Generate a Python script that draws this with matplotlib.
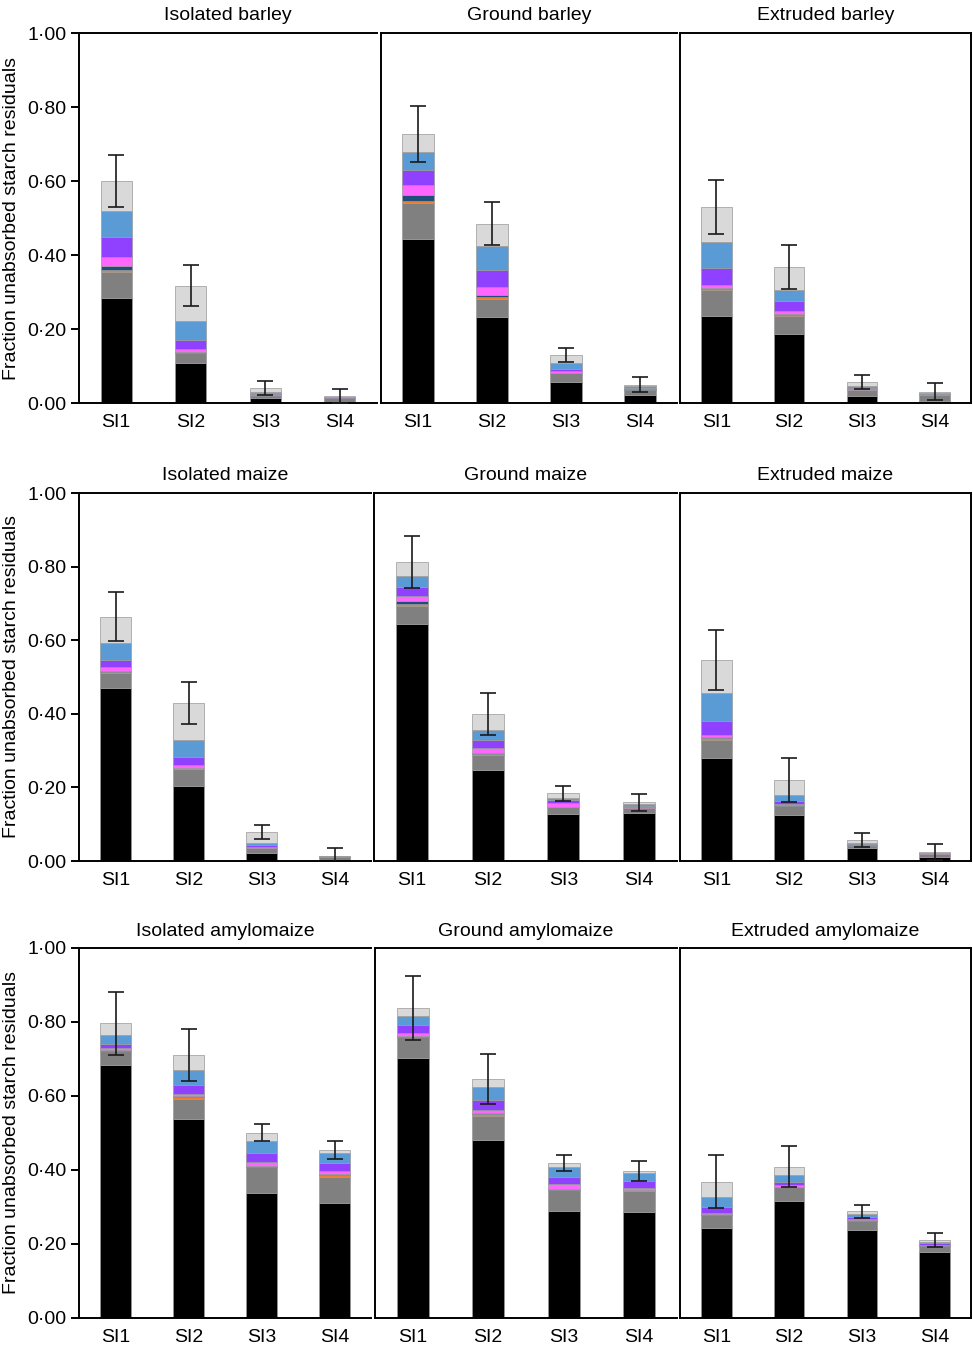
import matplotlib
matplotlib.use("Agg")
from matplotlib import pyplot as plt
import numpy as np

plt.rcParams['font.family'] = ['Liberation Sans', 'DejaVu Sans']

groups = ["SI1", "SI2", "SI3", "SI4"]
layer_colors = ["#000000", "#808080", "#ed7d31", "#1f4e79",
                "#ff66ff", "#9040ff", "#5b9bd5", "#d9d9d9"]

# cumulative top of each layer (black, gray, orange, navy, pink, purple, blue, light gray), per SI
iso_barley = [[0.284, 0.353, 0.359, 0.371, 0.394, 0.448, 0.519, 0.600],
              [0.107, 0.134, 0.135, 0.137, 0.145, 0.170, 0.222, 0.317],
              [0.013, 0.020, 0.020, 0.021, 0.023, 0.026, 0.030, 0.040],
              [0.003, 0.013, 0.013, 0.013, 0.014, 0.015, 0.017, 0.019]]
iso_barley_err = [0.069, 0.056, 0.019, 0.018]

ground_barley = [[0.442, 0.540, 0.546, 0.561, 0.588, 0.630, 0.679, 0.728],
                 [0.232, 0.282, 0.286, 0.291, 0.314, 0.359, 0.425, 0.485],
                 [0.058, 0.080, 0.081, 0.082, 0.086, 0.091, 0.107, 0.130],
                 [0.022, 0.036, 0.036, 0.037, 0.038, 0.041, 0.045, 0.050]]
ground_barley_err = [0.076, 0.057, 0.019, 0.021]

ext_barley = [[0.235, 0.305, 0.307, 0.310, 0.320, 0.365, 0.435, 0.530],
              [0.186, 0.235, 0.237, 0.240, 0.250, 0.275, 0.305, 0.368],
              [0.019, 0.035, 0.035, 0.036, 0.038, 0.041, 0.047, 0.056],
              [0.005, 0.022, 0.022, 0.022, 0.023, 0.025, 0.028, 0.031]]
ext_barley_err = [0.073, 0.059, 0.019, 0.022]

iso_maize = [[0.469, 0.511, 0.514, 0.516, 0.526, 0.546, 0.592, 0.664],
             [0.204, 0.250, 0.252, 0.254, 0.260, 0.283, 0.329, 0.429],
             [0.022, 0.035, 0.035, 0.036, 0.039, 0.044, 0.050, 0.079],
             [0.002, 0.011, 0.011, 0.011, 0.012, 0.012, 0.013, 0.014]]
iso_maize_err = [0.066, 0.057, 0.020, 0.021]

ground_maize = [[0.643, 0.693, 0.698, 0.707, 0.720, 0.745, 0.775, 0.812],
                [0.247, 0.287, 0.291, 0.294, 0.306, 0.329, 0.356, 0.399],
                [0.128, 0.147, 0.147, 0.148, 0.158, 0.166, 0.172, 0.184],
                [0.131, 0.144, 0.144, 0.145, 0.147, 0.149, 0.154, 0.159]]
ground_maize_err = [0.070, 0.057, 0.020, 0.022]

ext_maize = [[0.280, 0.330, 0.333, 0.336, 0.342, 0.380, 0.457, 0.546],
             [0.125, 0.149, 0.150, 0.151, 0.155, 0.163, 0.179, 0.220],
             [0.035, 0.042, 0.042, 0.043, 0.044, 0.046, 0.050, 0.057],
             [0.012, 0.020, 0.020, 0.020, 0.021, 0.022, 0.023, 0.025]]
ext_maize_err = [0.082, 0.060, 0.019, 0.021]

iso_amylo = [[0.684, 0.721, 0.722, 0.724, 0.729, 0.741, 0.765, 0.796],
             [0.537, 0.591, 0.597, 0.599, 0.605, 0.629, 0.669, 0.710],
             [0.337, 0.407, 0.408, 0.411, 0.421, 0.445, 0.478, 0.501],
             [0.312, 0.382, 0.386, 0.388, 0.397, 0.420, 0.447, 0.454]]
iso_amylo_err = [0.086, 0.070, 0.023, 0.024]

ground_amylo = [[0.703, 0.759, 0.760, 0.762, 0.770, 0.792, 0.816, 0.838],
                [0.481, 0.546, 0.551, 0.553, 0.562, 0.589, 0.624, 0.646],
                [0.289, 0.346, 0.347, 0.349, 0.362, 0.381, 0.408, 0.419],
                [0.286, 0.343, 0.345, 0.347, 0.351, 0.370, 0.392, 0.397]]
ground_amylo_err = [0.086, 0.068, 0.022, 0.027]

ext_amylo = [[0.244, 0.278, 0.279, 0.280, 0.285, 0.299, 0.326, 0.368],
             [0.317, 0.353, 0.354, 0.355, 0.359, 0.368, 0.386, 0.409],
             [0.238, 0.263, 0.263, 0.264, 0.268, 0.272, 0.281, 0.288],
             [0.178, 0.195, 0.195, 0.196, 0.197, 0.202, 0.206, 0.212]]
ext_amylo_err = [0.072, 0.056, 0.018, 0.019]

panels = [
    [("Isolated barley", iso_barley, iso_barley_err),
     ("Ground barley", ground_barley, ground_barley_err),
     ("Extruded barley", ext_barley, ext_barley_err)],
    [("Isolated maize", iso_maize, iso_maize_err),
     ("Ground maize", ground_maize, ground_maize_err),
     ("Extruded maize", ext_maize, ext_maize_err)],
    [("Isolated amylomaize", iso_amylo, iso_amylo_err),
     ("Ground amylomaize", ground_amylo, ground_amylo_err),
     ("Extruded amylomaize", ext_amylo, ext_amylo_err)],
]

W, H = 973, 1348
# pixel boxes: (left, right) per panel, (top, bottom) per row
row_y = [(33, 403), (493, 861), (948, 1318)]
row_x = [[(79, 377), (381, 677), (680, 971)],
         [(79, 371), (374, 677), (680, 971)],
         [(79, 371), (375, 677), (680, 971)]]

fig = plt.figure(figsize=(W / 100, H / 100), dpi=100)

x = np.arange(len(groups))
for r in range(3):
    y0, y1 = row_y[r]
    for c in range(3):
        x0, x1 = row_x[r][c]
        ax = fig.add_axes([x0 / W, 1 - y1 / H, (x1 - x0) / W, (y1 - y0) / H])
        title, tops, err = panels[r][c]
        tops = np.array(tops)
        bottom = np.zeros(len(groups))
        for k in range(tops.shape[1]):
            ax.bar(x, tops[:, k] - bottom, bottom=bottom, width=0.42,
                   color=layer_colors[k], edgecolor="#999999", linewidth=0.5, zorder=2)
            bottom = tops[:, k]
        ax.errorbar(x, tops[:, -1], yerr=err, fmt="none", ecolor="#1a1a1a",
                    elinewidth=1.2, capsize=5.5, capthick=1.2, zorder=3)
        ax.set_xlim(-0.5, 3.5)
        ax.set_ylim(0, 1.0)
        ax.set_xticks(x)
        ax.set_xticklabels(groups, fontsize=14)
        ax.tick_params(axis="x", length=0, pad=8)
        for s in ax.spines.values():
            s.set_linewidth(1.4)
        if c < 2:
            ax.spines["right"].set_visible(False)
        if c == 0:
            ax.set_yticks([0, 0.2, 0.4, 0.6, 0.8, 1.0])
            ax.set_yticklabels(["0·00", "0·20", "0·40", "0·60", "0·80", "1·00"], fontsize=14)
            ax.tick_params(axis="y", length=6, width=1.4, direction="out", pad=3)
            ax.set_ylabel("Fraction unabsorbed starch residuals", fontsize=14, labelpad=5)
        else:
            ax.set_yticks([])
        ax.set_title(title, fontsize=14, pad=9)

fig.savefig("out.png", dpi=100)
